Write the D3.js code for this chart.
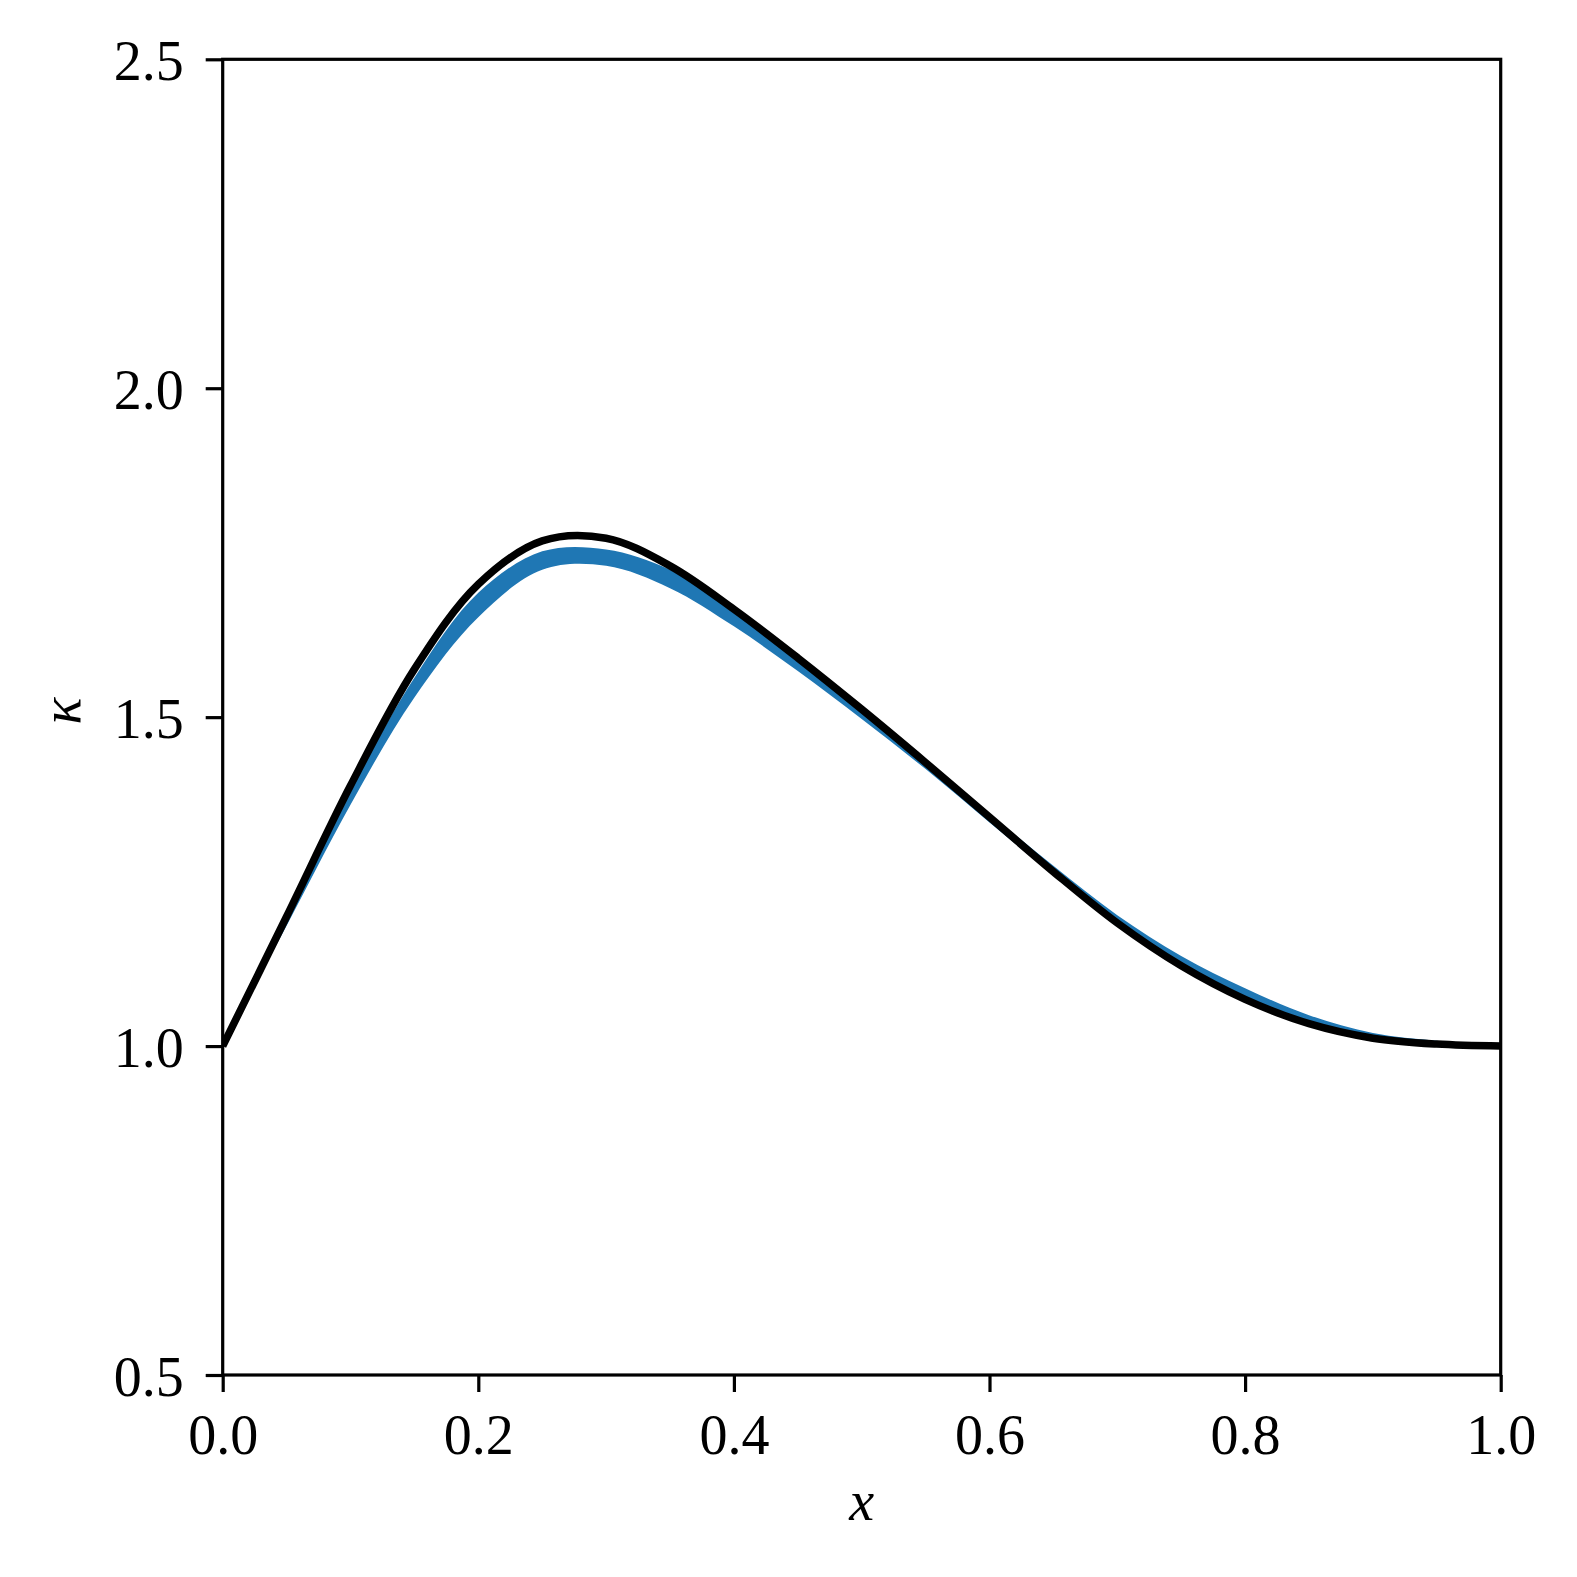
<!DOCTYPE html>
<html>
<head>
<meta charset="utf-8">
<script src="https://cdn.jsdelivr.net/npm/d3@7"></script>
<style>
  html, body { margin: 0; padding: 0; background: #fff; }
  svg { display: block; }
  text { font-family: "Liberation Serif", "DejaVu Serif", serif; }
</style>
</head>
<body>
<svg id="chart" width="1577" height="1577"></svg>
<script>
// ---- data ----
const xGrid = [0.00, 0.05, 0.10, 0.15, 0.20, 0.25, 0.30, 0.35, 0.40, 0.45, 0.50,
               0.55, 0.60, 0.65, 0.70, 0.75, 0.80, 0.85, 0.90, 0.95, 1.00];
const kappaTrue = [1.000, 1.197, 1.396, 1.573, 1.702, 1.768, 1.772, 1.730, 1.664, 1.590, 1.512,
                   1.431, 1.348, 1.265, 1.187, 1.122, 1.071, 1.034, 1.012, 1.003, 1.000];
const bandLower = [1.000, 1.183, 1.367, 1.530, 1.652, 1.724, 1.730, 1.696, 1.638, 1.570, 1.497,
                   1.421, 1.340, 1.260, 1.184, 1.120, 1.070, 1.033, 1.011, 1.003, 1.000];
const bandUpper = [1.000, 1.193, 1.388, 1.560, 1.689, 1.752, 1.755, 1.724, 1.660, 1.586, 1.509,
                   1.433, 1.353, 1.274, 1.199, 1.137, 1.088, 1.047, 1.020, 1.008, 1.000];
const xTicks = [0.0, 0.2, 0.4, 0.6, 0.8, 1.0];
const yTicks = [0.5, 1.0, 1.5, 2.0, 2.5];
const xDomain = [0, 1];
const yDomain = [0.5, 2.5];

// ---- layout ----
const mLeft = 222.7, mTop = 59.3, W = 1278, H = 1315.7;
const svg = d3.select("#chart");
const g = svg.append("g").attr("transform", `translate(${mLeft},${mTop})`);

const x = d3.scaleLinear().domain(xDomain).range([0, W]);
const y = d3.scaleLinear().domain(yDomain).range([H, 0]);

const bandData = xGrid.map((v, i) => ({x: v, lo: bandLower[i], hi: bandUpper[i]}));
const lineData = xGrid.map((v, i) => ({x: v, k: kappaTrue[i]}));

const curve = d3.curveCatmullRom.alpha(0.5);

svg.append("defs").append("clipPath").attr("id", "clip")
  .append("rect").attr("x", 0).attr("y", 0).attr("width", W).attr("height", H);

const plot = g.append("g").attr("clip-path", "url(#clip)");

plot.append("path")
  .datum(bandData)
  .attr("fill", "#1f77b4")
  .attr("stroke", "none")
  .attr("d", d3.area().curve(curve).x(d => x(d.x)).y0(d => y(d.lo)).y1(d => y(d.hi)));

plot.append("path")
  .datum(lineData)
  .attr("fill", "none")
  .attr("stroke", "#000")
  .attr("stroke-width", 7.5)
  .attr("stroke-linejoin", "round")
  .attr("d", d3.line().curve(curve).x(d => x(d.x)).y(d => y(d.k)));

// ---- axes ----
const fmt = d3.format(".1f");
const xAxis = g.append("g").attr("transform", `translate(0,${H})`)
  .call(d3.axisBottom(x).tickValues(xTicks).tickFormat(fmt).tickSize(17).tickPadding(20));
const yAxis = g.append("g")
  .call(d3.axisLeft(y).tickValues(yTicks).tickFormat(fmt).tickSize(17).tickPadding(22));

[xAxis, yAxis].forEach(a => {
  a.select(".domain").remove();
  a.selectAll(".tick line").attr("stroke", "#000").attr("stroke-width", 3.2);
  a.selectAll(".tick text").attr("fill", "#000").style("font-size", "56px")
    .style("font-family", '"Liberation Serif", serif');
});
xAxis.selectAll(".tick text").attr("dy", "0.75em");
yAxis.selectAll(".tick text").attr("dy", "0.36em");

// frame
g.append("rect").attr("x", 0).attr("y", 0).attr("width", W).attr("height", H)
  .attr("fill", "none").attr("stroke", "#000").attr("stroke-width", 3.2);

// axis labels
svg.append("text")
  .attr("x", mLeft + W / 2).attr("y", 1520)
  .attr("text-anchor", "middle")
  .style("font-size", "56px").style("font-style", "italic")
  .text("x");

svg.append("text")
  .attr("transform", `translate(80,${mTop + H / 2 - 6}) rotate(-90)`)
  .attr("text-anchor", "middle")
  .style("font-size", "56px").style("font-style", "italic")
  .text("κ");
</script>
</body>
</html>
